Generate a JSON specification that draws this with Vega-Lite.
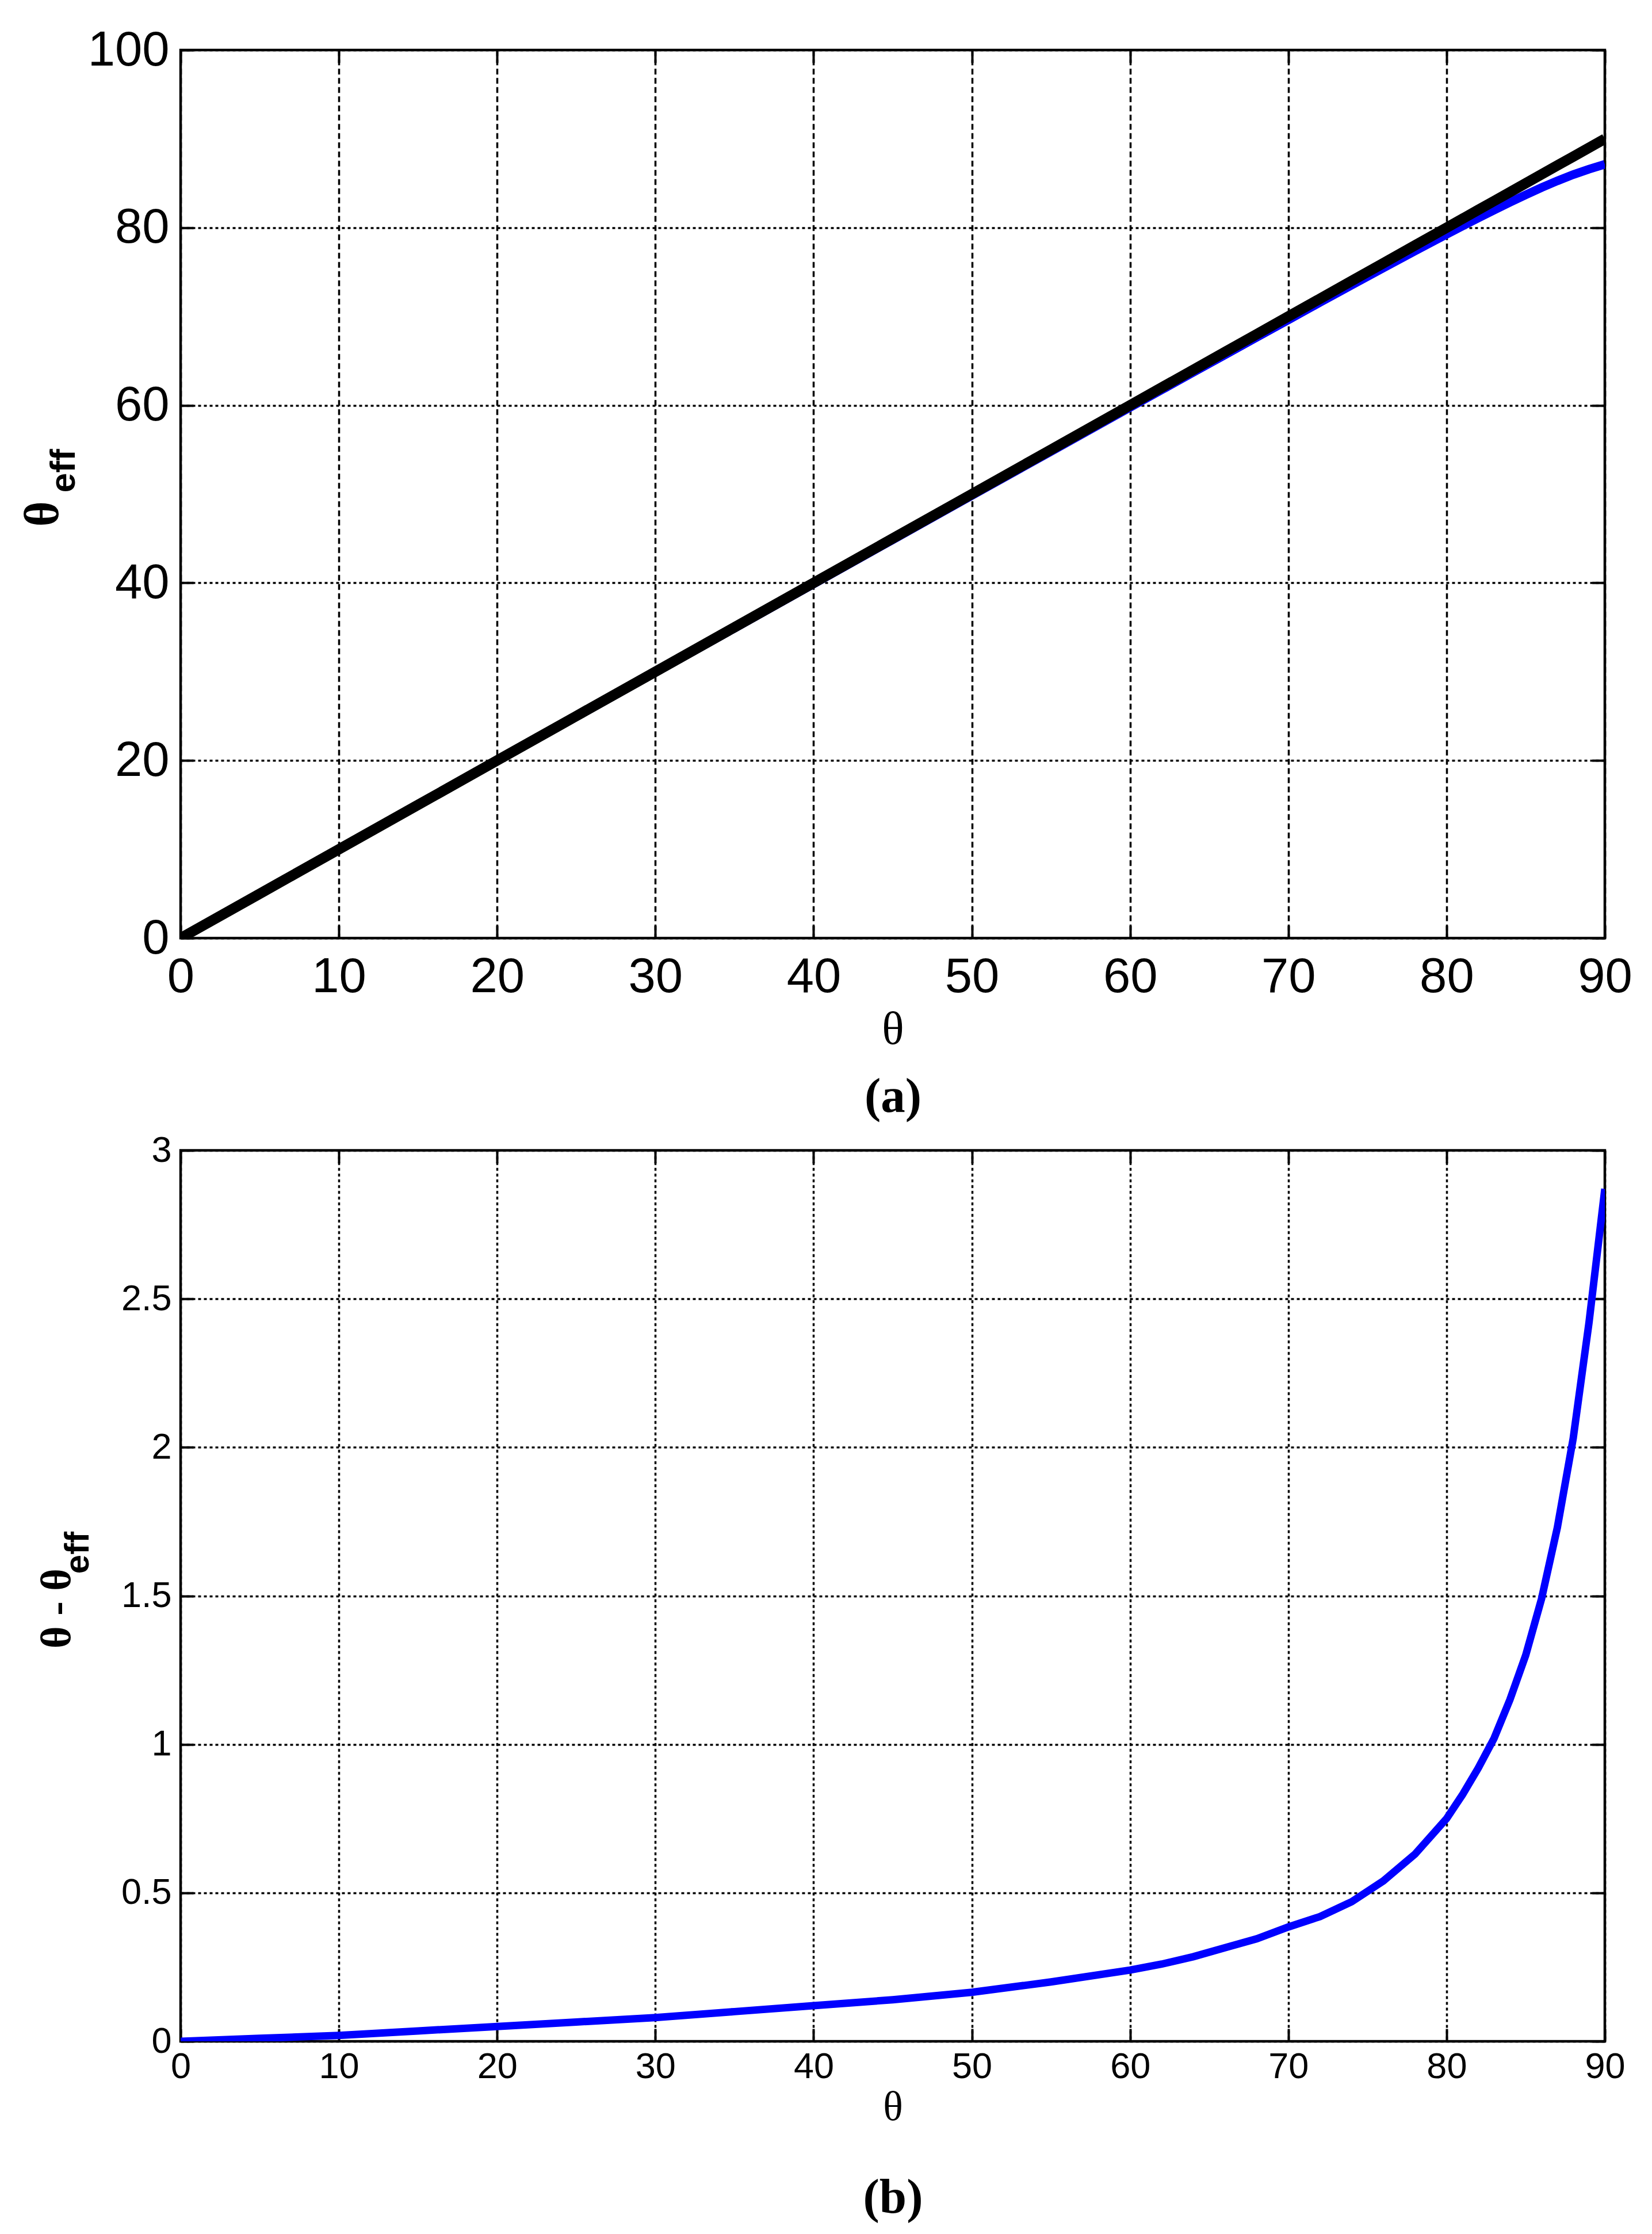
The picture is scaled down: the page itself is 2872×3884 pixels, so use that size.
{
  "$schema": "https://vega.github.io/schema/vega-lite/v6.json",
  "padding": {"left": 29, "top": 42, "right": 0, "bottom": 0},
  "background": "white",
  "datasets": {
    "top": [
      {"theta": 0, "eff": 0, "ideal": 0},
      {"theta": 5, "eff": 4.99, "ideal": 5},
      {"theta": 10, "eff": 9.98, "ideal": 10},
      {"theta": 15, "eff": 14.965, "ideal": 15},
      {"theta": 20, "eff": 19.95, "ideal": 20},
      {"theta": 25, "eff": 24.935, "ideal": 25},
      {"theta": 30, "eff": 29.92, "ideal": 30},
      {"theta": 35, "eff": 34.9, "ideal": 35},
      {"theta": 40, "eff": 39.88, "ideal": 40},
      {"theta": 45, "eff": 44.86, "ideal": 45},
      {"theta": 50, "eff": 49.835, "ideal": 50},
      {"theta": 55, "eff": 54.8, "ideal": 55},
      {"theta": 60, "eff": 59.76, "ideal": 60},
      {"theta": 62, "eff": 61.74, "ideal": 62},
      {"theta": 64, "eff": 63.715, "ideal": 64},
      {"theta": 66, "eff": 65.685, "ideal": 66},
      {"theta": 68, "eff": 67.655, "ideal": 68},
      {"theta": 70, "eff": 69.615, "ideal": 70},
      {"theta": 72, "eff": 71.58, "ideal": 72},
      {"theta": 74, "eff": 73.53, "ideal": 74},
      {"theta": 76, "eff": 75.46, "ideal": 76},
      {"theta": 78, "eff": 77.37, "ideal": 78},
      {"theta": 80, "eff": 79.25, "ideal": 80},
      {"theta": 81, "eff": 80.17, "ideal": 81},
      {"theta": 82, "eff": 81.08, "ideal": 82},
      {"theta": 83, "eff": 81.98, "ideal": 83},
      {"theta": 84, "eff": 82.85, "ideal": 84},
      {"theta": 85, "eff": 83.7, "ideal": 85},
      {"theta": 86, "eff": 84.51, "ideal": 86},
      {"theta": 87, "eff": 85.27, "ideal": 87},
      {"theta": 88, "eff": 85.97, "ideal": 88},
      {"theta": 89, "eff": 86.58, "ideal": 89},
      {"theta": 90, "eff": 87.13, "ideal": 90}
    ],
    "bottom": [
      {"theta": 0, "diff": 0},
      {"theta": 5, "diff": 0.01},
      {"theta": 10, "diff": 0.02},
      {"theta": 15, "diff": 0.035},
      {"theta": 20, "diff": 0.05},
      {"theta": 25, "diff": 0.065},
      {"theta": 30, "diff": 0.08},
      {"theta": 35, "diff": 0.1},
      {"theta": 40, "diff": 0.12},
      {"theta": 45, "diff": 0.14},
      {"theta": 50, "diff": 0.165},
      {"theta": 55, "diff": 0.2},
      {"theta": 60, "diff": 0.24},
      {"theta": 62, "diff": 0.26},
      {"theta": 64, "diff": 0.285},
      {"theta": 66, "diff": 0.315},
      {"theta": 68, "diff": 0.345},
      {"theta": 70, "diff": 0.385},
      {"theta": 72, "diff": 0.42},
      {"theta": 74, "diff": 0.47},
      {"theta": 76, "diff": 0.54},
      {"theta": 78, "diff": 0.63},
      {"theta": 80, "diff": 0.75},
      {"theta": 81, "diff": 0.83},
      {"theta": 82, "diff": 0.92},
      {"theta": 83, "diff": 1.02},
      {"theta": 84, "diff": 1.15},
      {"theta": 85, "diff": 1.3},
      {"theta": 86, "diff": 1.49},
      {"theta": 87, "diff": 1.73},
      {"theta": 88, "diff": 2.03},
      {"theta": 89, "diff": 2.42},
      {"theta": 90, "diff": 2.87}
    ]
  },
  "config": {
    "view": {"stroke": "black", "strokeWidth": 4.5},
    "axis": {
      "domain": false,
      "tickColor": "black",
      "tickWidth": 4,
      "tickSize": -22,
      "labelColor": "black",
      "titleColor": "black",
      "gridColor": "black",
      "gridWidth": 3.5,
      "gridOpacity": 1,
      "labelFlush": false,
      "labelOverlap": false
    }
  },
  "vconcat": [
    {
      "width": 2476,
      "height": 1544,
      "data": {"name": "top"},
      "layer": [
        {
          "mark": {"type": "line", "color": "#0000ff", "strokeWidth": 15, "clip": true},
          "encoding": {
            "x": {
              "field": "theta", "type": "quantitative",
              "scale": {"domain": [0, 90], "nice": false},
              "axis": {
                "orient": "bottom", "values": [0, 10, 20, 30, 40, 50, 60, 70, 80, 90],
                "grid": true, "gridDash": [10, 6],
                "labelFont": "Liberation Sans Narrow, Liberation Sans, Arial", "labelFontSize": 85,
                "labelPadding": 48,
                "title": "θ", "titleFont": "Liberation Serif, Times New Roman", "titleFontWeight": "normal",
                "titleFontSize": 80, "titleX": 1238, "titleY": 159, "titleAlign": "center", "titleBaseline": "middle", "titleAngle": 0
              }
            },
            "y": {
              "field": "eff", "type": "quantitative",
              "scale": {"domain": [0, 100], "nice": false},
              "axis": {
                "orient": "left", "values": [0, 20, 40, 60, 80, 100],
                "grid": true, "gridDash": [5, 5],
                "labelFont": "Liberation Sans Narrow, Liberation Sans, Arial", "labelFontSize": 85,
                "labelPadding": 42,
                "title": "θ", "titleFont": "Liberation Serif, Times New Roman", "titleFontWeight": "bold",
                "titleFontSize": 85, "titleX": -240, "titleY": 806, "titleAlign": "center", "titleBaseline": "middle", "titleAngle": 270
              }
            }
          }
        },
        {
          "mark": {"type": "line", "color": "black", "strokeWidth": 18, "clip": true},
          "encoding": {
            "x": {
              "field": "theta", "type": "quantitative",
              "scale": {"domain": [0, 90], "nice": false},
              "axis": {
                "orient": "top", "values": [0, 10, 20, 30, 40, 50, 60, 70, 80, 90],
                "grid": false, "labels": false,
                "title": "(a)", "titleFont": "Liberation Serif, Times New Roman", "titleFontWeight": "bold",
                "titleFontSize": 85, "titleX": 1238, "titleY": 1819, "titleAlign": "center", "titleBaseline": "middle", "titleAngle": 0
              }
            },
            "y": {
              "field": "ideal", "type": "quantitative",
              "scale": {"domain": [0, 100], "nice": false},
              "axis": {
                "orient": "right", "values": [0, 20, 40, 60, 80, 100],
                "grid": false, "labels": false,
                "title": "eff", "titleFont": "Liberation Sans, Arial", "titleFontWeight": "bold",
                "titleFontSize": 62, "titleX": -2680, "titleY": 731, "titleAlign": "center", "titleBaseline": "middle", "titleAngle": 270
              }
            }
          }
        }
      ],
      "resolve": {"scale": {"x": "independent", "y": "independent"}, "axis": {"x": "independent", "y": "independent"}}
    },
    {
      "width": 2476,
      "height": 1549,
      "data": {"name": "bottom"},
      "layer": [
        {
          "mark": {"type": "line", "color": "#0000ff", "strokeWidth": 13, "clip": true},
          "encoding": {
            "x": {
              "field": "theta", "type": "quantitative",
              "scale": {"domain": [0, 90], "nice": false},
              "axis": {
                "orient": "bottom", "values": [0, 10, 20, 30, 40, 50, 60, 70, 80, 90],
                "grid": true, "gridDash": [5, 5],
                "labelFont": "Liberation Sans, Arial", "labelFontSize": 63,
                "labelPadding": 35,
                "title": "θ", "titleFont": "Liberation Serif, Times New Roman", "titleFontWeight": "normal",
                "titleFontSize": 72, "titleX": 1238, "titleY": 114, "titleAlign": "center", "titleBaseline": "middle", "titleAngle": 0
              }
            },
            "y": {
              "field": "diff", "type": "quantitative",
              "scale": {"domain": [0, 3], "nice": false},
              "axis": {
                "orient": "left", "values": [0, 0.5, 1, 1.5, 2, 2.5, 3], "format": "~g",
                "grid": true, "gridDash": [5, 5],
                "labelFont": "Liberation Sans, Arial", "labelFontSize": 63,
                "labelPadding": 38,
                "title": "θ - θ", "titleFont": "Liberation Serif, Times New Roman", "titleFontWeight": "bold",
                "titleFontSize": 74, "titleX": -215, "titleY": 796, "titleAlign": "center", "titleBaseline": "middle", "titleAngle": 270
              }
            }
          }
        },
        {
          "mark": {"type": "line", "color": "#0000ff", "strokeWidth": 11, "opacity": 0},
          "encoding": {
            "x": {
              "field": "theta", "type": "quantitative",
              "scale": {"domain": [0, 90], "nice": false},
              "axis": {
                "orient": "top", "values": [0, 10, 20, 30, 40, 50, 60, 70, 80, 90],
                "grid": false, "labels": false,
                "title": "(b)", "titleFont": "Liberation Serif, Times New Roman", "titleFontWeight": "bold",
                "titleFontSize": 85, "titleX": 1238, "titleY": 1820, "titleAlign": "center", "titleBaseline": "middle", "titleAngle": 0
              }
            },
            "y": {
              "field": "diff", "type": "quantitative",
              "scale": {"domain": [0, 3], "nice": false},
              "axis": {
                "orient": "right", "values": [0, 0.5, 1, 1.5, 2, 2.5, 3],
                "grid": false, "labels": false,
                "title": "eff", "titleFont": "Liberation Sans, Arial", "titleFontWeight": "bold",
                "titleFontSize": 60, "titleX": -2655, "titleY": 699, "titleAlign": "center", "titleBaseline": "middle", "titleAngle": 270
              }
            }
          }
        }
      ],
      "resolve": {"scale": {"x": "independent", "y": "independent"}, "axis": {"x": "independent", "y": "independent"}}
    }
  ],
  "bounds": "flush",
  "spacing": 369
}
